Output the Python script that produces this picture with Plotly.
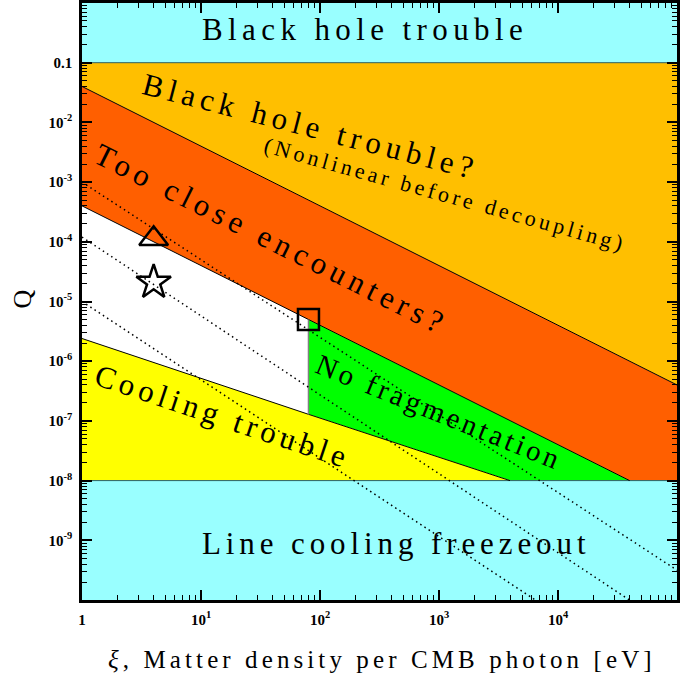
import numpy as np
import plotly.graph_objects as go

# ---- data (xi in eV, Q dimensionless) ----
xi_min, xi_max = 1.0, 1e5
q_min, q_max = 1e-10, 1.0
q_blackhole = 0.1          # Q above this: black hole trouble
q_freeze = 1e-8            # Q below this: line cooling freezeout
xi_frag = 80.0             # fragmentation boundary

nonlin_xi = [1.0, 1e5]     # nonlinear-before-decoupling boundary
nonlin_q = [0.04, 4e-7]
close_xi = [1.0, 4e4]      # too-close-encounters boundary
close_q = [4e-4, 1e-8]
cool_xi = [1.0, 80.0, 3950.0]   # cooling boundary
cool_q = [2.4e-6, 1.29e-7, 1e-8]
frag_q = [1.29e-7, 5e-6]   # vertical fragmentation line

dot1_xi, dot1_q = [1.0, 1e5], [1e-3, 10**-9.5]
dot2_xi, dot2_q = [1.0, 10**4.6], [10**-3.92, 1e-10]
dot3_xi, dot3_q = [1.0, 10**3.81], [1e-5, 1e-10]

tri_xi, tri_q = [4.0], [1.12e-4]
star_xi, star_q = [4.0], [2.1e-5]
sq_xi, sq_q = [80.0], [5e-6]

x_tickvals = [1, 10, 100, 1000, 10000]
x_ticktext = ["1", "10<sup>1</sup>", "10<sup>2</sup>", "10<sup>3</sup>", "10<sup>4</sup>"]
y_tickvals = [1e-1, 1e-2, 1e-3, 1e-4, 1e-5, 1e-6, 1e-7, 1e-8, 1e-9]
y_ticktext = ["0.1", "10<sup>-2</sup>", "10<sup>-3</sup>", "10<sup>-4</sup>", "10<sup>-5</sup>",
              "10<sup>-6</sup>", "10<sup>-7</sup>", "10<sup>-8</sup>", "10<sup>-9</sup>"]

CYAN = "#99ffff"
AMBER = "#ffbf00"
RED = "#ff5f00"
GREEN = "#00ff00"
YELLOW = "#ffff00"

fig = go.Figure()

def poly(xs, ys, color):
    fig.add_trace(go.Scatter(x=xs, y=ys, fill="toself", fillcolor=color, mode="lines",
                             line=dict(width=0, color=color), hoverinfo="skip", showlegend=False))

# regions
poly([xi_min, xi_max, xi_max, xi_min], [q_blackhole, q_blackhole, q_max, q_max], CYAN)
poly([xi_min, xi_max, nonlin_xi[1], nonlin_xi[0]], [q_blackhole, q_blackhole, nonlin_q[1], nonlin_q[0]], AMBER)
poly([nonlin_xi[0], nonlin_xi[1], xi_max, close_xi[1], close_xi[0]],
     [nonlin_q[0], nonlin_q[1], q_freeze, close_q[1], close_q[0]], RED)
poly([xi_frag, close_xi[1], cool_xi[2], cool_xi[1]], [sq_q[0], close_q[1], cool_q[2], cool_q[1]], GREEN)
poly([cool_xi[0], cool_xi[1], cool_xi[2], xi_min], [cool_q[0], cool_q[1], cool_q[2], q_freeze], YELLOW)
poly([xi_min, xi_max, xi_max, xi_min], [q_freeze, q_freeze, q_min, q_min], CYAN)

def line(xs, ys, color="black", width=1, dash="solid"):
    fig.add_trace(go.Scatter(x=xs, y=ys, mode="lines", line=dict(color=color, width=width, dash=dash),
                             hoverinfo="skip", showlegend=False))

line([xi_min, xi_max], [q_blackhole, q_blackhole], color="#2a6060")
line([xi_min, xi_max], [q_freeze, q_freeze], color="#2a6060")
line(nonlin_xi, nonlin_q)
line(close_xi, close_q)
line(cool_xi, cool_q)
line([xi_frag, xi_frag], frag_q, color="#808080", width=1.5)

for xs, ys in [(dot1_xi, dot1_q), (dot2_xi, dot2_q), (dot3_xi, dot3_q)]:
    line(xs, ys, width=1.5, dash="1.5px,3.5px")

def marker(xs, ys, symbol, size):
    fig.add_trace(go.Scatter(x=xs, y=ys, mode="markers",
                             marker=dict(symbol=symbol, size=size, color="black",
                                         line=dict(color="black", width=2.5)),
                             hoverinfo="skip", showlegend=False))

marker(tri_xi, tri_q, "triangle-up-open", 25)
marker(star_xi, star_q, "star-open", 26)
marker(sq_xi, sq_q, "square-open", 21)

# ---- layout ----
L, R, T, B = 82, 2, 0, 81
W, H = 680, 681
PW, PH = W - L - R, H - T - B

def px(xp, yp):
    return (xp - L) / PW, (H - B - yp) / PH

FONT = "Liberation Serif"
# text, centre x, centre y (pixels), angle, size, letter spacing
labels = [
    ("Black hole trouble", 365, 27, 0, 31, 5.4),
    ("Black hole trouble?", 311, 124, 14.5, 31, 5.4),
    ("(Nonlinear before decoupling)", 446, 192, 15.5, 22, 3.7),
    ("Too close encounters?", 272, 238, 26.5, 31, 5.5),
    ("No fragmentation", 440, 411, 22, 29, 3.6),
    ("Cooling trouble", 223, 416, 18.5, 31, 4.8),
    ("Line cooling freezeout", 397, 543, 0, 31, 4.9),
]
anns = []
for txt, xp, yp, ang, sz, ls in labels:
    x, y = px(xp, yp)
    anns.append(dict(text=f'<span style="letter-spacing:{ls}px">{txt}</span>', x=x, y=y,
                     xref="paper", yref="paper", showarrow=False,
                     textangle=ang, font=dict(family=FONT, size=sz, color="black"),
                     xanchor="center", yanchor="middle"))
x, y = px(383, 660)
anns.append(dict(text='<span style="letter-spacing:4.1px"><i>ξ</i>, Matter density per CMB photon [eV]</span>',
                 x=x, y=y, xref="paper", yref="paper",
                 showarrow=False, font=dict(family=FONT, size=25, color="black"),
                 xanchor="center", yanchor="middle"))
x, y = px(22, 298)
anns.append(dict(text="Q", x=x, y=y, xref="paper", yref="paper", showarrow=False, textangle=-90,
                 font=dict(family=FONT, size=26, color="black"),
                 xanchor="center", yanchor="middle"))

x_minor = [m * 10**k for k in range(0, 5) for m in range(2, 10)]
y_minor = [m * 10**k for k in range(-10, 0) for m in range(2, 10)]

tickfont = dict(family="Liberation Serif", size=15, color="black", weight="bold")
fig.update_layout(
    width=W, height=H, margin=dict(l=L, r=R, t=T, b=B),
    paper_bgcolor="white", plot_bgcolor="white",
    annotations=anns,
    xaxis=dict(type="log", range=[0, 5], tickmode="array", tickvals=x_tickvals, ticktext=x_ticktext,
               ticks="inside", ticklen=10, tickwidth=1.5, tickcolor="black", showgrid=False, zeroline=False,
               showline=True, linewidth=2.5, linecolor="black", mirror="allticks", tickfont=tickfont,
               ticklabelstandoff=4,
               minor=dict(tickmode="array", tickvals=x_minor, ticks="inside", ticklen=5, tickwidth=1,
                          tickcolor="black", showgrid=False)),
    yaxis=dict(type="log", range=[-10, 0], tickmode="array", tickvals=y_tickvals, ticktext=y_ticktext,
               ticks="inside", ticklen=10, tickwidth=1.5, tickcolor="black", showgrid=False, zeroline=False,
               showline=True, linewidth=2.5, linecolor="black", mirror="allticks", tickfont=tickfont,
               ticklabelstandoff=4,
               minor=dict(tickmode="array", tickvals=y_minor, ticks="inside", ticklen=5, tickwidth=1,
                          tickcolor="black", showgrid=False)),
)

fig.write_html("out.html", config={"displayModeBar": False},
               post_script="document.body.style.margin='0';document.body.style.overflow='hidden';")
